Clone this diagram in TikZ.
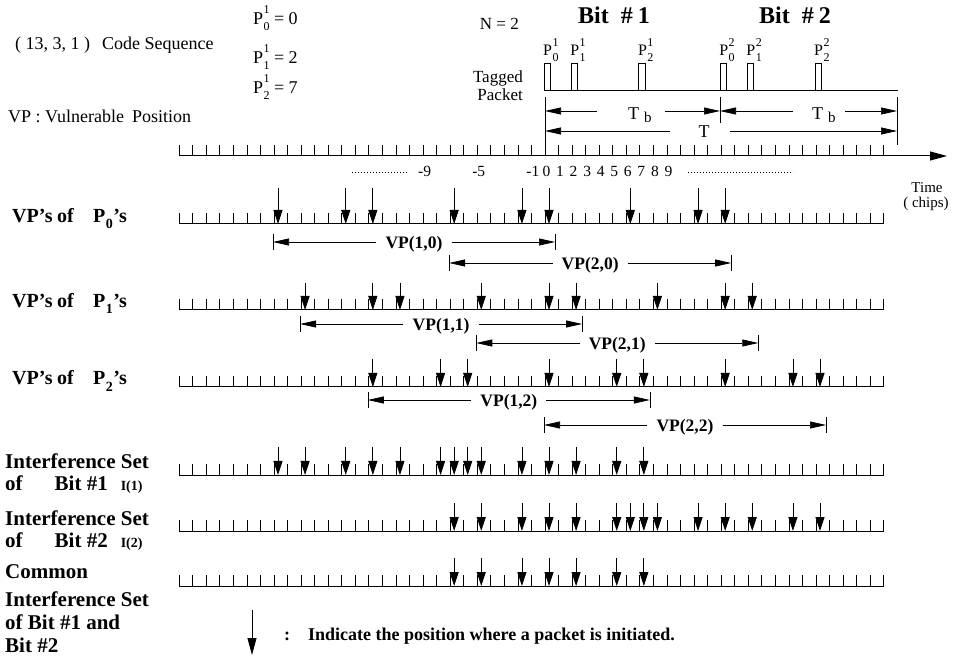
\documentclass[tikz,border=0pt]{standalone}
\usepackage{fontspec}
\setmainfont{Liberation Serif}
\usetikzlibrary{arrows.meta,calc}

% x position of chip #1 on the time axis
\newcommand\chip[1]{545+13.55*(#1)}
\newcommand\fs[1]{\fontsize{#1}{#1}\selectfont}
% P with subscript #2 and superscript #3
\newcommand\Pss[3][12]{P\kern.4pt\rlap{\raisebox{.62em}{\fs{#1}#3}}\raisebox{-.32em}{\fs{#1}#2}}
% row title: VP's of P_i's
\newcommand\vptitle[1]{\makebox[45pt][l]{VP's}\makebox[36pt][l]{of}P\kern.4pt\raisebox{-.3em}{\fs{14}#1}\kern.5pt's}

% a row of chip ticks (baseline #1, arrow length #2) with arrows at the chips in #3
\newcommand\tickrow[3]{%
  \draw[rowline] ({\chip{-27}},#1) -- ({\chip{25}},#1);
  \foreach \t in {-27,...,25} \draw[rowtick] ({\chip{\t}},#1) -- ++(0,-11);
  \foreach \t in {#3} \draw[rowarr] ({\chip{\t}+4},#1-#2) -- ({\chip{\t}+4},#1);
}

% vulnerable-position span: name, label, y, first chip, last chip
\newcommand\vpspan[5]{%
  \coordinate (#1l) at ({\chip{#4}-1},#3);
  \coordinate (#1r) at ({\chip{#5}+10},#3);
  \draw[vpbar] ($(#1l)+(0,-8)$) -- ($(#1l)+(0,8)$);
  \draw[vpbar] ($(#1r)+(0,-8)$) -- ($(#1r)+(0,8)$);
  \node[vplab] (#1) at ($(#1l)!.5!(#1r)+(0,2.5)$) {#2};
  \draw[span] (#1.west |- #1l) -- (#1l);
  \draw[span] (#1.east |- #1r) -- (#1r);
}

\tikzset{
  x=1pt, y=-1pt,
  rowline/.style={line width=1pt},
  rowtick/.style={line width=0.8pt},
  rowarr/.style={line width=0.8pt, -{Triangle[length=14pt,width=9pt]}},
  vpbar/.style={line width=0.7pt},
  span/.style={line width=0.7pt, -{Triangle[length=16pt,width=7pt]}},
  vplab/.style={font=\fs{17.5}\bfseries, inner xsep=9pt, inner ysep=0pt},
  lab/.style={font=\fs{18}, inner sep=0pt, anchor=base west},
  blab/.style={font=\fs{21}\bfseries, inner sep=0pt, anchor=base west},
  dots/.style={line width=1pt, dash pattern=on 1pt off 2pt},
}

\begin{document}
\begin{tikzpicture}
\useasboundingbox (0,0) rectangle (962,660);

% ---- legend of the code -------------------------------------------
\node[lab] (code) at (15,50) {( 13, 3, 1 )\hspace{12pt}Code Sequence};
\node[lab] (eq0) at (253,25) {\Pss{0}{1} = 0};
\node[lab] (eq1) at (253,64) {\Pss{1}{1} = 2};
\node[lab] (eq2) at (253,94) {\Pss{2}{1} = 7};
\node[lab] (vpdef) at (8,123) {VP : Vulnerable\hspace{8pt}Position};

% ---- tagged packet --------------------------------------------------
\node[lab, font=\fs{17}, anchor=base east] (nn) at (519,30) {N = 2};
\node[lab, font=\fs{24}\bfseries] (bit1) at (578,24) {Bit\hspace{12pt}\#\hspace{5pt}1};
\node[lab, font=\fs{24}\bfseries] (bit2) at (759,24) {Bit\hspace{12pt}\#\hspace{5pt}2};
\node[lab, font=\fs{17}, anchor=base east] (tag1) at (523,83) {Tagged};
\node[lab, font=\fs{17}, anchor=base east] (tag2) at (523,101) {Packet};

\draw[line width=0.9pt] (545,90) -- (898,90);
\foreach \t/\s/\u in {0/0/1,2/1/1,7/2/1,13/0/2,15/1/2,20/2/2}{
  \draw[line width=0.8pt] ({\chip{\t}-1},90) rectangle ++(6.5,-27);
  \node[lab, font=\fs{16}] at ({\chip{\t}-2},56) {\Pss{\s}{\u}};
}

\coordinate (barA) at (545,97);
\coordinate (barB) at (720,97);
\coordinate (barC) at (897,97);
\draw[vpbar] (barA) -- ++(0,48);
\draw[vpbar] (barB) -- ++(0,26);
\draw[vpbar] (barC) -- ++(0,48);

\node[lab] (tb1) at (628,120) {T\hspace{5pt}\raisebox{-3pt}{\fs{15}b}};
\node[lab] (tb2) at (812,120) {T\hspace{5pt}\raisebox{-3pt}{\fs{15}b}};
\node[lab, anchor=base] (tt) at (704,138) {T};
\coordinate (tb1a) at (597,111);
\coordinate (tb1b) at (665,111);
\coordinate (tb2a) at (793,111);
\coordinate (tb2b) at (845,111);
\coordinate (tta) at (670,131);
\coordinate (ttb) at (730,131);
\draw[span] (tb1a) -- (barA |- tb1a);
\draw[span] (tb1b) -- (barB |- tb1b);
\draw[span] (tb2a) -- (barB |- tb2a);
\draw[span] (tb2b) -- (barC |- tb2b);
\draw[span] (tta) -- (barA |- tta);
\draw[span] (ttb) -- (barC |- ttb);

% ---- time axis ------------------------------------------------------
\draw[rowline, -{Triangle[length=17pt,width=9pt]}] ({\chip{-27}},156) -- (947,156);
\foreach \t in {-27,...,25} \draw[rowtick] ({\chip{\t}},156) -- ++(0,-11);
\foreach \t in {-9,-5,-1,0,1,2,3,4,5,6,7,8,9}
  \node[lab, font=\fs{15.5}, anchor=base] at ({\chip{\t}+1.5},177) {\t};
\draw[dots] (352,173) -- (407,173);
\draw[dots] (688,173) -- (793,173);
\node[lab, font=\fs{15}, anchor=base] (time) at (927,193) {Time};
\node[lab, font=\fs{15}, anchor=base] (chips) at (926,208) {( chips)};

% ---- vulnerable positions ---------------------------------------------
\node[blab, font=\fs{20}\bfseries] (r0) at (12,223) {\vptitle{0}};
\tickrow{224}{36}{-20,-15,-13,-7,-2,0,6,11,13}
\vpspan{vpa}{VP(1,0)}{242}{-20}{0}
\vpspan{vpb}{VP(2,0)}{263}{-7}{13}

\node[blab, font=\fs{20}\bfseries] (r1) at (12,308) {\vptitle{1}};
\tickrow{310}{27}{-18,-13,-11,-5,0,2,8,13,15}
\vpspan{vpc}{VP(1,1)}{324}{-18}{2}
\vpspan{vpd}{VP(2,1)}{343}{-5}{15}

\node[blab, font=\fs{20}\bfseries] (r2) at (12,385) {\vptitle{2}};
\tickrow{387}{28}{-13,-8,-6,0,5,7,13,18,20}
\vpspan{vpe}{VP(1,2)}{400}{-13}{7}
\vpspan{vpf}{VP(2,2)}{425}{0}{20}

% ---- interference sets -----------------------------------------------
\node[blab] (i1a) at (5,468) {Interference Set};
\node[blab] (i1b) at (5,490) {of\hspace{32pt}Bit \#1\hspace{13pt}{\fs{14}I(1)}};
\tickrow{475}{28}{-20,-18,-15,-13,-11,-8,-7,-6,-5,-2,0,2,5,7}

\node[blab] (i2a) at (5,525) {Interference Set};
\node[blab] (i2b) at (5,547) {of\hspace{32pt}Bit \#2\hspace{13pt}{\fs{14}I(2)}};
\tickrow{531}{28}{-7,-5,-2,0,2,5,6,7,8,11,13,15,18,20}

\node[blab] (c1) at (5,578) {Common};
\node[blab] (c2) at (5,606) {Interference Set};
\node[blab] (c3) at (5,629) {of Bit \#1 and};
\node[blab] (c4) at (5,652) {Bit \#2};
\tickrow{586}{28}{-7,-5,-2,0,2,5,7}

% ---- legend -------------------------------------------------------------
\coordinate (lgtop) at (252,610);
\coordinate (lgtip) at (252,655);
\draw[rowarr, -{Triangle[length=17pt,width=9pt]}] (lgtop) -- (lgtip);
\node[lab, font=\fs{18}\bfseries] (colon) at (284,640) {:};
\node[lab, font=\fs{18}\bfseries] (legend) at (308,640) {Indicate the position where a packet is initiated.};
\end{tikzpicture}
\end{document}
